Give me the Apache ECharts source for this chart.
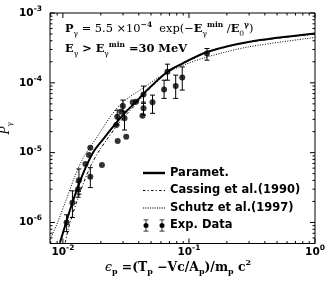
<!DOCTYPE html>
<html><head><meta charset="utf-8">
<script src="https://cdn.jsdelivr.net/npm/echarts@6/dist/echarts.min.js"></script>
<style>html,body{margin:0;padding:0;background:#fff}#c{width:329px;height:282px}</style>
</head><body><div id="c"></div>
<script>
// Parametrisation curve
const paramX = [0.00947,0.01018,0.01095,0.01188,0.01289,0.01411,0.01574,0.01786,0.02065,0.02567,0.03077,0.03804,0.0456,0.0675,0.0886,0.1393,0.2968,1.0];
const paramY = [5.13e-7,7.87e-7,1.21e-6,1.91e-6,2.93e-6,4.50e-6,7.13e-6,1.09e-5,1.52e-5,2.49e-5,3.66e-5,5.36e-5,7.6e-5,1.44e-4,1.89e-4,2.77e-4,3.85e-4,5.08e-4];
// Cassing et al. (1990)
const cassingX = [0.01043,0.01109,0.01199,0.01289,0.0149,0.01692,0.01956,0.0222,0.0271,0.0325,0.0397,0.0467,0.0683,0.0897,0.1411,0.2968,1.0];
const cassingY = [5.13e-7,8.39e-7,1.33e-6,2.0e-6,4.06e-6,6.9e-6,1.09e-5,1.52e-5,2.49e-5,3.66e-5,5.36e-5,7.6e-5,1.44e-4,1.88e-4,2.75e-4,3.81e-4,5.0e-4];
// Schutz et al. (1997)
const schutzX = [0.0079,0.00892,0.01037,0.01243,0.01445,0.01692,0.02028,0.0243,0.02811,0.0337,0.04265,0.05302,0.06711,0.0881,0.1393,0.2968,1.0];
const schutzY = [5.66e-7,9.27e-7,1.89e-6,4.54e-6,8.32e-6,1.29e-5,2.11e-5,3.46e-5,4.72e-5,6.25e-5,8.26e-5,1.09e-4,1.40e-4,1.76e-4,2.35e-4,3.27e-4,4.46e-4];
// Experimental data
const expX  = [0.139,0.0675,0.0885,0.0785,0.0635,0.0436,0.0436,0.0428,0.0514,0.038,0.0358,0.0299,0.029,0.027,0.0308,0.0265,0.0318,0.0272,0.0204,0.0165,0.0161,0.0151,0.0165,0.0134,0.0132,0.0119,0.0107];
const expY  = [2.63e-4,1.44e-4,1.19e-4,8.97e-5,8.05e-5,6.83e-5,4.31e-5,3.38e-5,5.25e-5,5.35e-5,5.25e-5,4.65e-5,3.85e-5,3.27e-5,3.10e-5,2.49e-5,1.69e-5,1.47e-5,6.67e-6,1.18e-5,9.27e-6,6.9e-6,4.5e-6,4.03e-6,3.0e-6,1.91e-6,1.0e-6];
const expLo = [2.11e-4,1.09e-4,7.87e-5,5.98e-5,5.98e-5,5.08e-5,3.46e-5,null,3.66e-5,null,null,3.94e-5,null,2.49e-5,2.11e-5,null,null,null,null,null,null,null,3.16e-6,2.55e-6,2.3e-6,1.18e-6,7.4e-7];
const expHi = [3.10e-4,1.85e-4,1.69e-4,1.29e-4,1.09e-4,8.97e-5,5.3e-5,null,6.67e-5,null,null,5.67e-5,null,4.07e-5,3.85e-5,null,null,null,null,null,null,null,6.1e-6,5.85e-6,3.8e-6,2.84e-6,1.29e-6];
// Ticks
const xMajorTicks = [0.01,0.1,1];
const xMinorTicks = [0.008,0.009,0.02,0.03,0.04,0.05,0.06,0.07,0.08,0.09,0.2,0.3,0.4,0.5,0.6,0.7,0.8,0.9];
const yMajorTicks = [1e-6,1e-5,1e-4,1e-3];
const yMinorTicks = [6e-7,7e-7,8e-7,9e-7,2e-6,3e-6,4e-6,5e-6,6e-6,7e-6,8e-6,9e-6,2e-5,3e-5,4e-5,5e-5,6e-5,7e-5,8e-5,9e-5,2e-4,3e-4,4e-4,5e-4,6e-4,7e-4,8e-4,9e-4];
const X_MIN = 0.0079, X_MAX = 1, Y_MIN = 5e-7, Y_MAX = 1e-3;

const chart = echarts.init(document.getElementById('c'), null, {renderer:'canvas'});
const SANS = 'DejaVu Sans', SERIF = 'DejaVu Serif';
function powLabel(v){ const e = Math.round(Math.log10(v)); return '{b|10}{s|' + (e<0?'-':'') + Math.abs(e) + '}'; }
const labelRich = {
  b:{fontFamily:SANS,fontWeight:'bold',fontSize:10.5,color:'#000',lineHeight:16},
  s:{fontFamily:SANS,fontWeight:'bold',fontSize:7.5,color:'#000',lineHeight:8,verticalAlign:'top'}
};
function xTickRender(len){ return function(params, api){
  const cs = params.coordSys; const p = api.coord([api.value(0), Y_MIN]);
  return {type:'group',children:[
    {type:'line',shape:{x1:p[0],y1:cs.y+cs.height,x2:p[0],y2:cs.y+cs.height-len},style:{stroke:'#000',lineWidth:1}},
    {type:'line',shape:{x1:p[0],y1:cs.y,x2:p[0],y2:cs.y+len},style:{stroke:'#000',lineWidth:1}}
  ]};
};}
function yTickRender(len){ return function(params, api){
  const cs = params.coordSys; const p = api.coord([X_MIN, api.value(1)]);
  return {type:'group',children:[
    {type:'line',shape:{x1:cs.x,y1:p[1],x2:cs.x+len,y2:p[1]},style:{stroke:'#000',lineWidth:1}},
    {type:'line',shape:{x1:cs.x+cs.width,y1:p[1],x2:cs.x+cs.width-len,y2:p[1]},style:{stroke:'#000',lineWidth:1}}
  ]};
};}
const errData = expX.map((x,i)=>[x, expLo[i]==null?expY[i]:expLo[i], expHi[i]==null?expY[i]:expHi[i], expLo[i]==null?0:1]);

const t1 = '{bi|P}{sb|γ}{n| = 5.5 ×10}{sp|−4}{n|  exp(−}{bi|E}{sb|γ}{sp|min}{n| /}{bi|E}{sb|0}{sp|γ}{n|)}';
const t2 = '{bi|E}{sb|γ}{bi| > E}{sb|γ}{sp|min}{bi| =30 MeV}';
const fRich = {
  n:{fontFamily:SERIF,fontSize:11.4,color:'#000',lineHeight:17},
  bi:{fontFamily:SERIF,fontWeight:'bold',fontSize:11.4,color:'#000',lineHeight:17},
  sb:{fontFamily:SERIF,fontSize:7.5,color:'#000',lineHeight:9,verticalAlign:'bottom'},
  sp:{fontFamily:SERIF,fontWeight:'bold',fontSize:7.5,color:'#000',lineHeight:9,verticalAlign:'top'}
};
const tX = '{it|ϵ}{sb|p}{bi| =(T}{sb|p}{bi| −Vc/A}{sb|p}{bi|)/m}{sb|p}{bi| c}{sp|2}';

const option = {
  animation:false,
  backgroundColor:'#fff',
  grid:{left:50,right:14,top:13,bottom:38.5,containLabel:false,outerBoundsMode:'none',
    show:true,borderColor:'#000',borderWidth:1,backgroundColor:'transparent'},
  xAxis:{type:'log',min:X_MIN,max:X_MAX,logBase:10,
    axisLine:{show:false},axisTick:{show:false},splitLine:{show:false},minorTick:{show:false},
    axisLabel:{customValues:xMajorTicks,formatter:powLabel,rich:labelRich,margin:1}},
  yAxis:{type:'log',min:Y_MIN,max:Y_MAX,logBase:10,
    name:'{it|P}{sb|γ}',nameLocation:'middle',nameGap:36,nameRotate:90,nameMoveOverlap:false,
    nameTextStyle:{rich:{it:{fontFamily:SERIF,fontStyle:'italic',fontSize:12,color:'#000',lineHeight:16},sb:{fontFamily:SERIF,fontSize:7.5,color:'#000',lineHeight:9,verticalAlign:'bottom'}}},
    axisLine:{show:false},axisTick:{show:false},splitLine:{show:false},minorTick:{show:false},
    axisLabel:{customValues:yMajorTicks,formatter:powLabel,rich:labelRich,margin:8}},
  legend:{orient:'vertical',left:143,top:167,padding:0,itemWidth:22,itemHeight:12,itemGap:5.5,itemTextGap:11,
    symbolKeepAspect:true,
    textStyle:{fontFamily:SANS,fontWeight:'bold',fontSize:11.5,color:'#000',lineHeight:12},
    data:[
      {name:'Paramet.',icon:'path://M0,0H20V2.2H0Z'},
      {name:'Cassing et al.(1990)',icon:'path://M0,0H2V1H0Z M4,0H5V1H4Z M7,0H9V1H7Z M11,0H12V1H11Z M14,0H16V1H14Z M18,0H19V1H18Z'},
      {name:'Schutz et al.(1997)',icon:'path://M0,0H1V1H0Z M2,0H3V1H2Z M4,0H5V1H4Z M6,0H7V1H6Z M8,0H9V1H8Z M10,0H11V1H10Z M12,0H13V1H12Z M14,0H15V1H14Z M16,0H17V1H16Z M18,0H19V1H18Z'},
      {name:'Exp. Data',icon:'path://M0,0H5V0.8H0Z M2.1,0H2.9V12H2.1Z M0,11.2H5V12H0Z M0,6A2.5,2.5 0 0,1 5,6A2.5,2.5 0 0,1 0,6Z M16,0H21V0.8H16Z M18.1,0H18.9V12H18.1Z M16,11.2H21V12H16Z M16,6A2.5,2.5 0 0,1 21,6A2.5,2.5 0 0,1 16,6Z'}]},
  graphic:[
    {type:'text',left:65,top:21,style:{text:t1,rich:fRich}},
    {type:'text',left:65,top:41,style:{text:t2,rich:fRich}},
    {type:'text',left:105,top:259,style:{text:tX,rich:{
      it:{fontFamily:SERIF,fontStyle:'italic',fontSize:12.4,color:'#000',lineHeight:17},
      bi:{fontFamily:SERIF,fontWeight:'bold',fontSize:12.4,color:'#000',lineHeight:17},
      sb:{fontFamily:SERIF,fontWeight:'bold',fontSize:8,color:'#000',lineHeight:9,verticalAlign:'bottom'},
      sp:{fontFamily:SERIF,fontWeight:'bold',fontSize:8,color:'#000',lineHeight:9,verticalAlign:'top'}}}}
  ],
  series:[
    {type:'custom',name:'xMajor',silent:true,data:xMajorTicks.map(v=>[v,Y_MIN]),renderItem:xTickRender(5)},
    {type:'custom',name:'xMinor',silent:true,data:xMinorTicks.map(v=>[v,Y_MIN]),renderItem:xTickRender(2.5)},
    {type:'custom',name:'yMajor',silent:true,data:yMajorTicks.map(v=>[X_MIN,v]),renderItem:yTickRender(5)},
    {type:'custom',name:'yMinor',silent:true,data:yMinorTicks.map(v=>[X_MIN,v]),renderItem:yTickRender(2.5)},
    {type:'line',name:'Paramet.',data:paramX.map((x,i)=>[x,paramY[i]]),symbol:'none',smooth:0.3,
      lineStyle:{color:'#000',width:2},itemStyle:{color:'#000'}},
    {type:'line',name:'Cassing et al.(1990)',data:cassingX.map((x,i)=>[x,cassingY[i]]),symbol:'none',smooth:0.3,
      lineStyle:{color:'#000',width:1,type:[3,2,1,2]},itemStyle:{color:'#000'}},
    {type:'line',name:'Schutz et al.(1997)',data:schutzX.map((x,i)=>[x,schutzY[i]]),symbol:'none',smooth:0.3,
      lineStyle:{color:'#000',width:1,type:[1,1.5]},itemStyle:{color:'#000'}},
    {type:'custom',name:'Exp. Data',data:errData,encode:{x:0,y:[1,2]},
      itemStyle:{color:'#000'},
      renderItem:function(params,api){
        if(!api.value(3)) return null;
        const lo = api.coord([api.value(0),api.value(1)]), hi = api.coord([api.value(0),api.value(2)]);
        const w = 2.5;
        return {type:'group',children:[
          {type:'line',shape:{x1:lo[0],y1:lo[1],x2:hi[0],y2:hi[1]},style:{stroke:'#000',lineWidth:1}},
          {type:'line',shape:{x1:lo[0]-w,y1:lo[1],x2:lo[0]+w,y2:lo[1]},style:{stroke:'#000',lineWidth:1}},
          {type:'line',shape:{x1:hi[0]-w,y1:hi[1],x2:hi[0]+w,y2:hi[1]},style:{stroke:'#000',lineWidth:1}}
        ]};
      }},
    {type:'scatter',name:'Exp. Data',data:expX.map((x,i)=>[x,expY[i]]),symbol:'circle',symbolSize:6,
      itemStyle:{color:'#000'}}
  ]
};
chart.setOption(option);
</script></body></html>
